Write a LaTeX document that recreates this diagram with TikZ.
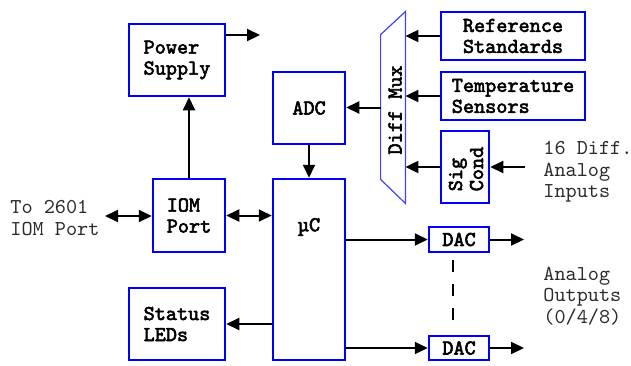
\documentclass[tikz,border=0pt]{standalone}
\usepackage{fontspec}
\setmonofont[AutoFakeBold=2.6]{Latin Modern Mono}
\usetikzlibrary{arrows.meta,calc}
\definecolor{boxblue}{HTML}{0000FF}
\definecolor{muxblue}{HTML}{4040FF}
\definecolor{ink}{HTML}{000000}
\definecolor{note}{HTML}{2B2B2B}
\tikzset{
  block/.style={draw=boxblue,line width=1.25pt,fill=white,inner sep=0pt,align=left,font=\ttfamily\fontsize{10.6}{10.5}\selectfont\bfseries,text=ink},
  notetext/.style={inner sep=0pt,anchor=west,align=left,font=\ttfamily\fontsize{10.6}{10.75}\selectfont,text=note},
  flow/.style={-{Triangle[length=6.5pt,width=6pt]},line width=1pt,draw=ink},
  flowboth/.style={{Triangle[length=6.5pt,width=6pt]}-{Triangle[length=6.5pt,width=6pt]},line width=1pt,draw=ink},
  gap/.style={line width=1pt,draw=ink,dash pattern=on 6pt off 6pt}
}
\begin{document}
\begin{tikzpicture}[x=0.5pt,y=-0.5pt]
  \useasboundingbox (0,0) rectangle (631,365);
  % blocks
  \node[block,minimum width=48pt,minimum height=36pt] (power) at (177,60) {Power\\Supply};
  \node[block,minimum width=36pt,minimum height=36pt] (adc) at (309,108) {ADC};
  \node[block,minimum width=36pt,minimum height=36.5pt] (iom) at (189,215.5) {IOM\\Port};
  \node[block,minimum width=36pt,minimum height=90.5pt] (uc) at (309,269.5) {};
  \node[font=\ttfamily\fontsize{10.6}{10.5}\selectfont\bfseries,inner sep=0pt] (uctext) at (309,227) {µC};
  \node[block,minimum width=48pt,minimum height=36pt] (leds) at (177,324) {Status\\LEDs};
  \node[block,minimum width=72pt,minimum height=24pt] (ref) at (513,36) {Reference\\Standards};
  \node[block,minimum width=72pt,minimum height=24pt] (temp) at (513,96) {Temperature\\Sensors};
  \node[block,minimum width=24pt,minimum height=36pt] (sigcond) at (465,167) {};
  \node[rotate=90,align=left,inner sep=0pt,font=\ttfamily\fontsize{10.6}{10.5}\selectfont\bfseries] (sigtext) at (466,169) {Sig\\Cond};
  \node[block,minimum width=30pt,minimum height=12.5pt] (dac1) at (459,239.5) {DAC};
  \node[block,minimum width=30pt,minimum height=12pt] (dac2) at (459,348) {DAC};

  % mux
  \node[minimum width=12pt,minimum height=95.5pt,inner sep=0pt] (mux) at (393,107.5) {};
  \draw[muxblue,line width=0.6pt] (mux.north east) -- ([yshift=-11.5pt]mux.north west)
    -- ([yshift=12pt]mux.south west) -- (mux.south east) -- cycle;
  \node[rotate=90,inner sep=0pt,font=\ttfamily\fontsize{10.6}{10.5}\selectfont\bfseries] (muxtext) at (395,110) {Diff Mux};

  % notes
  \node[notetext] (iomnote) at (10,218) {To 2601\\IOM Port};
  \node[notetext] (innote) at (543,172) {16 Diff.\\Analog\\Inputs};
  \node[notetext] (outnote) at (543,296) {Analog\\Outputs\\(0/4/8)};

  % free ends
  \coordinate (pwrout) at (260,35);
  \coordinate (iomext) at (105,216);
  \coordinate (ain) at (525,167);
  \coordinate (aout) at (524,0);

  % connectors
  \draw[flow] (pwrout -| power.east) -- (pwrout);
  \draw[flow] (iom.north) -- (iom.north |- power.south);
  \draw[flowboth] (iomext) -- (iomext -| iom.west);
  \draw[flowboth] (iom.east) -- (iom.east -| uc.west);
  \draw[flow] (adc.south) -- (uc.north);
  \draw[flow] (mux.west) -- (mux.west -| adc.east);
  \draw[flow] (ref.west) -- (ref.west -| mux.east);
  \draw[flow] (temp.west) -- (temp.west -| mux.east);
  \draw[flow] (sigcond.west) -- (sigcond.west -| mux.east);
  \draw[flow] (ain) -- (sigcond.east);
  \draw[flow] (uc.west |- leds.east) -- (leds.east);
  \draw[flow] (dac1.west -| uc.east) -- (dac1.west);
  \draw[flow] (dac2.west -| uc.east) -- (dac2.west);
  \draw[flow] (dac1.east) -- (aout |- dac1.east);
  \draw[flow] (dac2.east) -- (aout |- dac2.east);
  \draw[gap] ([xshift=-3pt,yshift=-3.5pt]dac1.south) -- ([xshift=-3pt,yshift=4.5pt]dac2.north);
\end{tikzpicture}
\end{document}
